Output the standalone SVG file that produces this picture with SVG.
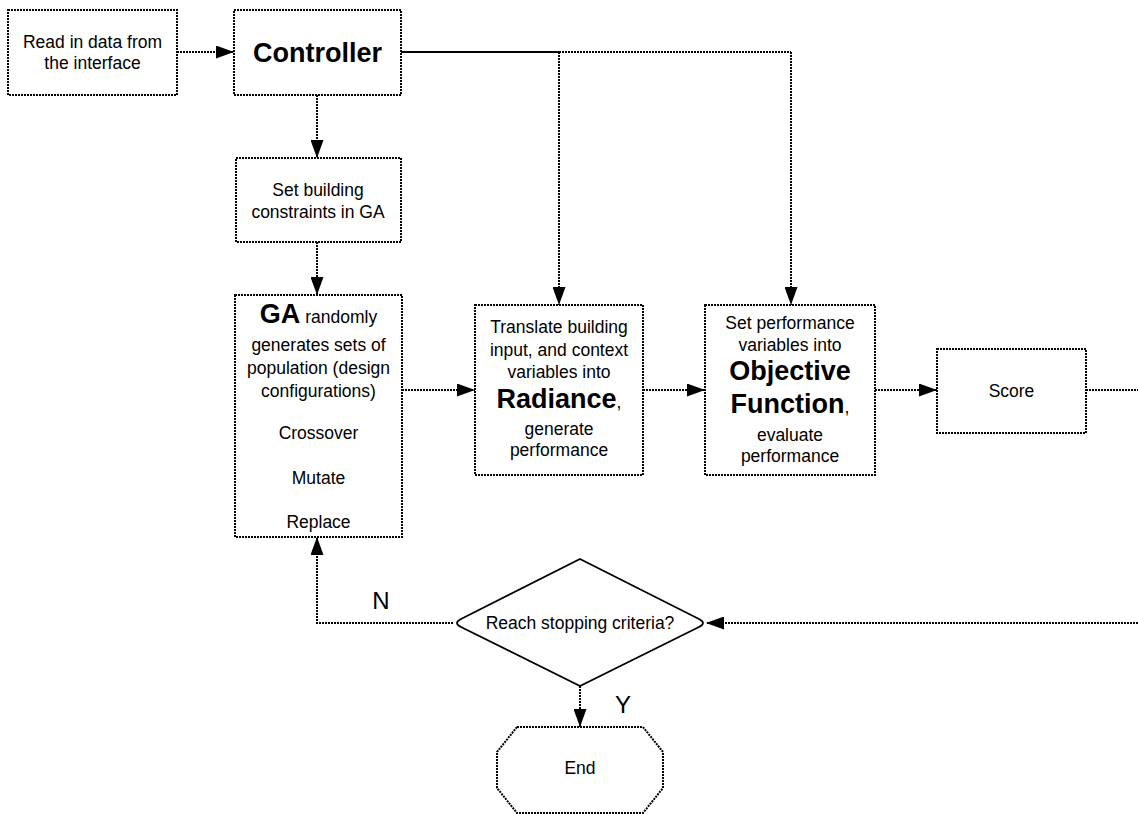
<svg xmlns="http://www.w3.org/2000/svg" width="1138" height="814" viewBox="0 0 1138 814">
<style>
.box{fill:#fff;stroke:#000;stroke-width:2;stroke-dasharray:2 1}
.dia{fill:#fff;stroke:#000;stroke-width:1.8}
.ln{fill:none;stroke:#000;stroke-width:2;stroke-dasharray:2 1}
.solid{fill:none;stroke:#000;stroke-width:2}
text{font-family:"Liberation Sans",Arial,sans-serif;font-size:17.5px;fill:#000;text-anchor:middle}
.b{font-weight:bold;font-size:27px}
.lab{font-size:24px}
</style>
<defs>
<marker id="ar" markerUnits="userSpaceOnUse" viewBox="0 0 18 13" refX="18" refY="6.5" markerWidth="18" markerHeight="13" orient="auto">
<path d="M0,0 L18,6.5 L0,13 z" fill="#000"/>
</marker>
</defs>
<g id="connectors">
<path class="ln" d="M177,52 H234" marker-end="url(#ar)"/>
<path class="ln" d="M317,95 V158" marker-end="url(#ar)"/>
<path class="ln" d="M317,242 V295" marker-end="url(#ar)"/>
<path class="solid" d="M401,52 H559"/>
<path class="ln" d="M559,52 H791"/>
<path class="ln" d="M559,52 V305" marker-end="url(#ar)"/>
<path class="ln" d="M791,52 V305" marker-end="url(#ar)"/>
<path class="ln" d="M402,390 H475" marker-end="url(#ar)"/>
<path class="ln" d="M643,390 H705" marker-end="url(#ar)"/>
<path class="ln" d="M875,390 H937" marker-end="url(#ar)"/>
<path class="ln" d="M1086,390 H1138"/>
<path class="ln" d="M1138,623 H706" marker-end="url(#ar)"/>
<path class="ln" d="M453,623 H317 V537" marker-end="url(#ar)"/>
<path class="ln" d="M580,686 V727" marker-end="url(#ar)"/>
<text class="lab" x="381" y="609">N</text>
<text class="lab" x="623" y="713">Y</text>
</g>
<g id="read">
<rect class="box" x="8" y="10" width="169" height="85"/>
<text x="92.5" y="48">Read in data from</text>
<text x="92.5" y="69">the interface</text>
</g>
<g id="controller">
<rect class="box" x="234" y="10" width="167" height="85"/>
<text class="b" x="317.5" y="62">Controller</text>
</g>
<g id="constraints">
<rect class="box" x="236" y="158" width="165" height="84"/>
<text x="318" y="196">Set building</text>
<text x="318" y="218">constraints in GA</text>
</g>
<g id="ga">
<rect class="box" x="235" y="295" width="167" height="242"/>
<text x="318.5" y="323"><tspan class="b">GA</tspan> randomly</text>
<text x="318.5" y="351">generates sets of</text>
<text x="318.5" y="374">population (design</text>
<text x="318.5" y="397">configurations)</text>
<text x="318.5" y="439">Crossover</text>
<text x="318.5" y="484">Mutate</text>
<text x="318.5" y="528">Replace</text>
</g>
<g id="radiance">
<rect class="box" x="475" y="305" width="168" height="170"/>
<text x="559" y="333">Translate building</text>
<text x="559" y="356">input, and context</text>
<text x="559" y="378">variables into</text>
<text x="559" y="408"><tspan class="b">Radiance</tspan>,</text>
<text x="559" y="435">generate</text>
<text x="559" y="456">performance</text>
</g>
<g id="objective">
<rect class="box" x="705" y="305" width="170" height="170"/>
<text x="790" y="329">Set performance</text>
<text x="790" y="351">variables into</text>
<text class="b" x="790" y="380">Objective</text>
<text x="790" y="413"><tspan class="b">Function</tspan>,</text>
<text x="790" y="441">evaluate</text>
<text x="790" y="462">performance</text>
</g>
<g id="score">
<rect class="box" x="937" y="349" width="149" height="84"/>
<text x="1011.5" y="397">Score</text>
</g>
<g id="decision">
<path class="dia" d="M580,559 L699,619 Q707,623 699,627 L580,686 L461,627 Q453,623 461,619 Z"/>
<text x="580" y="629">Reach stopping criteria?</text>
</g>
<g id="end">
<path class="box" d="M517,727 H643 L663,752 V788 L643,813 H517 L497,788 V752 Z"/>
<text x="580" y="774">End</text>
</g>
</svg>
